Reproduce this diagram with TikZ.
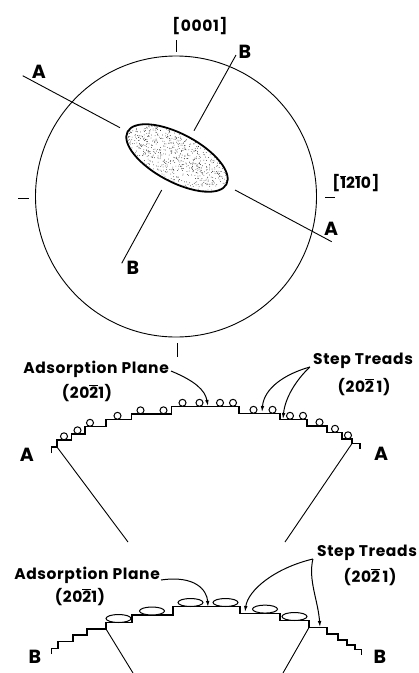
\documentclass[tikz,border=0pt]{standalone}
\usepackage{fontspec}
\newfontfamily\lettering[LetterSpace=4]{Poppins}
\usetikzlibrary{arrows.meta}
% Miller-Bravais index digit with a bar over it
\newcommand\negidx[1]{\ensuremath{\overline{\mbox{#1}}}}
\begin{document}
\begin{tikzpicture}[x=1pt,y=-1pt,
  lbl/.style={font=\lettering\bfseries\fontsize{15.5}{18}\selectfont, inner sep=0pt},
  tag/.style={font=\lettering\bfseries\fontsize{19}{21}\selectfont, inner sep=0pt},
  thin line/.style={line width=0.9pt},
  profile/.style={line width=1.3pt, line join=miter},
  atom/.style={line width=1pt, fill=white},
  pointer/.style={line width=1pt, -{Latex[length=6pt,width=3.6pt]}},
]
\useasboundingbox (0,0) rectangle (419,673);

% ---------------- stereographic projection ----------------
\node[draw, thin line, circle, minimum size=281pt, inner sep=0pt] (globe) at (176,196.5) {};
\draw[thin line] (176,40) -- (176,52);
\draw[thin line] (18,198) -- (29,198);
\draw[thin line] (325,197) -- (335,197);
\draw[thin line] (177,343) -- (177,357);

\node[lbl] (zaxis) at (200,26) {[0001]};
\node[lbl] (xaxis) at (356,183) {[\negidx{1}2\negidx{1}0]};

% shaded facet
\begin{scope}[shift={(177,158)}, rotate=-28]
  \clip (0,0) ellipse [x radius=56, y radius=24];
  \pgfmathsetseed{11}
  \foreach \i in {1,...,850}
    \fill ({112*rnd-56},{48*rnd-24}) circle (0.38);
\end{scope}
\draw[line width=1.8pt, rotate around={-28:(177,158)}] (177,158) ellipse [x radius=56, y radius=24];

% section traces A-A and B-B
\coordinate (aw1) at (22.7,75.7);  \coordinate (aw2) at (120,127.7);
\coordinate (ae1) at (235,190);    \coordinate (ae2) at (331.7,241.7);
\coordinate (bn1) at (236,55);     \coordinate (bn2) at (194,130.7);
\coordinate (bs1) at (161.7,190);  \coordinate (bs2) at (121.7,263.3);
\draw[thin line] (aw1) -- (aw2);
\draw[thin line] (ae1) -- (ae2);
\draw[thin line] (bn1) -- (bn2);
\draw[thin line] (bs1) -- (bs2);

\node[tag] (tagAw) at (39,72) {A};
\node[tag] (tagAe) at (331,229) {A};
\node[tag] (tagBn) at (245,52) {B};
\node[tag] (tagBs) at (133,268) {B};

% ---------------- section A-A ----------------
\draw[profile] (51.5,453) -- (51.5,447) -- (57,447) -- (57,440) -- (71.5,440)
  -- (71.5,434) -- (85,434) -- (85,426.5) -- (106,426.5) -- (106,419.5)
  -- (131.5,419.5) -- (131.5,414) -- (171.5,414) -- (171.5,406.5) -- (239,406.5)
  -- (239,413.5) -- (280,413.5) -- (280,419.5) -- (307,419.5) -- (307,426)
  -- (327,426) -- (327,432.5) -- (342,432.5) -- (342,439) -- (352,439)
  -- (352,443.5) -- (360,443.5) -- (360,448.5);
\foreach \x/\y in {64/436.3, 77.5/430.3, 90/422.8, 117.5/415.8, 140.5/410.3,
                   163.5/410.3, 182.5/402.8, 199.5/402.8, 220/402.8, 233/402.8,
                   253.5/409.8, 272.5/409.8, 290/415.8, 303/415.8, 319.5/422.3,
                   335/428.8, 348/435.3}
  \draw[atom] (\x,\y) circle (3.5);

\coordinate (coneAw) at (57,447);
\coordinate (coneAe) at (352,443.5);
\coordinate (coneAwEnd) at (128,542);
\coordinate (coneAeEnd) at (285,542);
\draw[thin line] (coneAw) -- (coneAwEnd);
\draw[thin line] (coneAe) -- (coneAeEnd);

\node[tag] (secAw) at (27,455) {A};
\node[tag] (secAe) at (381,454) {A};

\node[lbl, anchor=east] (adsA) at (169,369) {Adsorption Plane};
\node[lbl] (adsAidx) at (87,393) {(20\negidx{2}1)};
\node[lbl] (stepA) at (363,361) {Step Treads};
\node[lbl] (stepAidx) at (364,387) {(20\negidx{2}\,1)};

\coordinate (adsAtip) at (208,406);
\coordinate (stepAtip1) at (262,412);
\coordinate (stepAtip2) at (283,419);
\draw[pointer] (adsA.east) ++(2,2) .. controls (195,381) and (205,390) .. (adsAtip);
\draw[pointer] (stepA.west) ++(-3,6) .. controls (285,374) and (264,388) .. (stepAtip1);
\draw[pointer] (stepA.west) ++(-3,6) .. controls (296,380) and (285,398) .. (stepAtip2);

% ---------------- section B-B ----------------
\draw[profile] (51.5,654) -- (51.5,648.3) -- (58,648.3) -- (58,641.7) -- (73,641.7)
  -- (73,635) -- (87,635) -- (87,629) -- (106,629) -- (106,622.7) -- (132,622.7)
  -- (132,615) -- (173,615) -- (173,606.7) -- (240,606.7) -- (240,613.3)
  -- (280,613.3) -- (280,620.7) -- (309,620.7) -- (309,627.5) -- (327,627.5)
  -- (327,634) -- (338,634) -- (338,640) -- (347,640) -- (347,645) -- (355,645)
  -- (355,649.3) -- (361.7,649.3) -- (361.7,655);
\foreach \x/\y in {118.5/618.5, 152/611, 190.5/602.5, 225.5/602.5, 265/609.1, 294.5/616.5}
  \draw[atom] (\x,\y) ellipse [x radius=12.5, y radius=4];

\coordinate (coneBw) at (106,629);
\coordinate (coneBe) at (309,627.5);
\coordinate (coneBwEnd) at (133,673);
\coordinate (coneBeEnd) at (283,673);
\draw[thin line] (coneBw) -- (coneBwEnd);
\draw[thin line] (coneBe) -- (coneBeEnd);

\node[tag] (secBw) at (35,657) {B};
\node[tag] (secBe) at (380,657) {B};

\node[lbl, anchor=east] (adsB) at (160,575) {Adsorption Plane};
\node[lbl] (adsBidx) at (80,597) {(20\negidx{2}1)};
\node[lbl] (stepB) at (367,553) {Step Treads};
\node[lbl] (stepBidx) at (370,577) {(20\negidx{2}\,1)};

\coordinate (adsBtip) at (208,607);
\coordinate (stepBtip1) at (245,612);
\coordinate (stepBtip2) at (320,627);
\draw[pointer] (adsB.east) ++(1,5) .. controls (195,575) and (207,590) .. (adsBtip);
\draw[pointer] (stepB.west) ++(-4,6) .. controls (275,568) and (248,590) .. (stepBtip1);
\draw[pointer] (stepB.west) ++(-4,6) .. controls (308,580) and (318,600) .. (stepBtip2);

\end{tikzpicture}
\end{document}
